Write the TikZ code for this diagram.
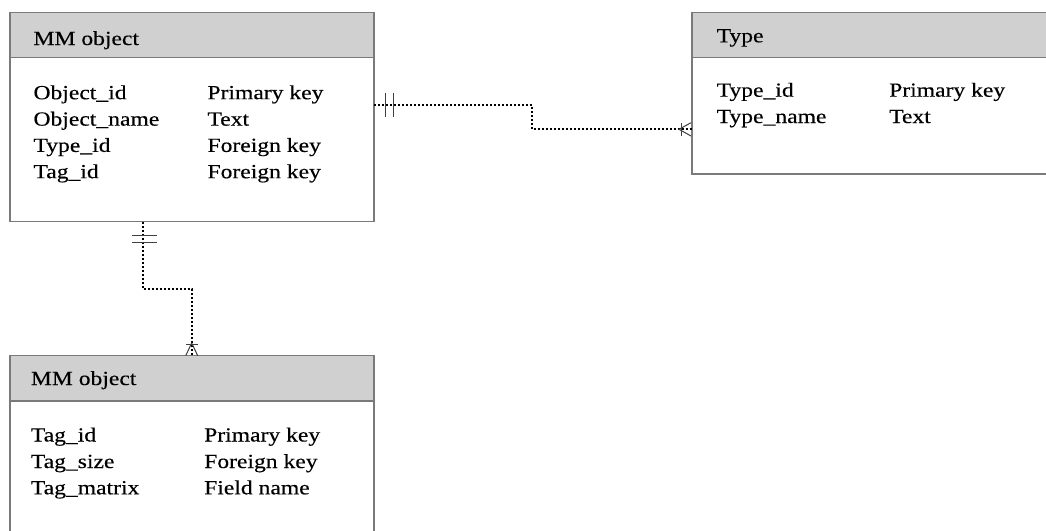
\documentclass[tikz,border=0pt]{standalone}
\usepackage{fontspec}
\setmainfont[FakeStretch=1.18,FakeBold=0.3]{Liberation Serif}
\begin{document}
\begin{tikzpicture}[x=1pt,y=-1pt,
  entbox/.style={draw=boxgray,line width=1.4pt,inner sep=0pt,outer sep=0pt,anchor=north west,fill=white},
  enthead/.style={draw=boxgray,line width=1.4pt,inner sep=0pt,outer sep=0pt,anchor=north west,fill=headgray},
  txt/.style={anchor=base west,inner sep=0pt,font=\fontsize{20pt}{24pt}\selectfont},
  rel/.style={line width=2pt,dash pattern=on 2pt off 2pt,black},
  sym/.style={line width=1pt,draw=black!75}
]
\definecolor{boxgray}{HTML}{7A7A7A}
\definecolor{headgray}{HTML}{D0D0D0}
\useasboundingbox (0,0) rectangle (1046,530);
\fill[white] (0,0) rectangle (1046,530);

% MM object (top)
\node[entbox,minimum width=364pt,minimum height=209.2pt] (b1) at (10,12.3) {};
\node[enthead,minimum width=364pt,minimum height=45.2pt] (h1) at (10,12.3) {};
\node[txt] (h1t) at (33.3,45) {MM object};
\node[txt] (r11) at (33.3,99.2) {Object\_id};
\node[txt] (r12) at (33.3,125.6) {Object\_name};
\node[txt] (r13) at (33.3,151.9) {Type\_id};
\node[txt] (r14) at (33.3,178.2) {Tag\_id};
\node[txt] (s11) at (207.3,99.2) {Primary key};
\node[txt] (s12) at (207.3,125.6) {Text};
\node[txt] (s13) at (207.3,151.9) {Foreign key};
\node[txt] (s14) at (207.3,178.2) {Foreign key};

% Type
\node[entbox,minimum width=380pt,minimum height=161.7pt] (b2) at (692,12.3) {};
\node[enthead,minimum width=380pt,minimum height=45.2pt] (h2) at (692,12.3) {};
\node[txt] (h2t) at (716.5,42.3) {Type};
\node[txt] (r21) at (716.5,96.7) {Type\_id};
\node[txt] (r22) at (716.5,123) {Type\_name};
\node[txt] (s21) at (889,96.7) {Primary key};
\node[txt] (s22) at (889,123) {Text};

% MM object (bottom)
\node[entbox,minimum width=364pt,minimum height=200pt] (b3) at (10,355.7) {};
\node[enthead,minimum width=364pt,minimum height=45.3pt] (h3) at (10,355.7) {};
\node[txt] (h3t) at (30.7,385) {MM object};
\node[txt] (r31) at (30.7,441.5) {Tag\_id};
\node[txt] (r32) at (30.7,468) {Tag\_size};
\node[txt] (r33) at (30.7,494.3) {Tag\_matrix};
\node[txt] (s31) at (204,441.5) {Primary key};
\node[txt] (s32) at (204,468) {Foreign key};
\node[txt] (s33) at (204,494.3) {Field name};

% connector 1: MM object -> Type
\coordinate (c1s) at (b1.east |- 0,105);
\coordinate (c1e) at (b2.west |- 0,129.3);
\draw[rel] (c1s) -- (532,105) -- (532,129.3) -- (c1e);
\draw[sym] (385,92.7) -- (385,117.3);
\draw[sym] (393,92.7) -- (393,117.3);
\draw[sym] (691,122.7) -- (679,129.3) -- (691,136);
\draw[sym] (681,123) -- (681,135.5);

% connector 2: MM object -> MM object (bottom)
\coordinate (c2s) at (b1.south -| 143.3,0);
\coordinate (c2e) at (b3.north -| 191.7,0);
\draw[rel] (c2s) -- (143.3,289.3) -- (191.7,289.3) -- (c2e);
\draw[sym] (131.7,235) -- (156.7,235);
\draw[sym] (131.7,242.7) -- (156.7,242.7);
\draw[sym] (185.7,355.7) -- (191.7,343) -- (197.7,355.7);
\draw[sym] (186,344.3) -- (198,344.3);
\end{tikzpicture}
\end{document}
